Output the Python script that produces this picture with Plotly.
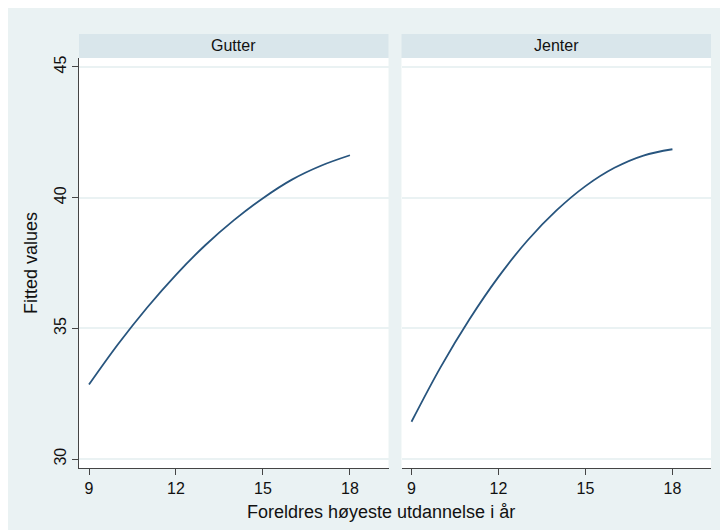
import plotly.graph_objects as go
from plotly.subplots import make_subplots

# fitted values by parents' education (years)
educ_years = [9, 10, 11, 12, 13, 14, 15, 16, 17, 18]
fitted_gutter = [32.85, 34.39, 35.79, 37.05, 38.17, 39.14, 39.98, 40.69, 41.22, 41.62]
fitted_jenter = [31.43, 33.51, 35.35, 36.97, 38.36, 39.51, 40.44, 41.14, 41.61, 41.85]
panel_titles = ["Gutter", "Jenter"]
x_ticks = [9, 12, 15, 18]
y_ticks = [30, 35, 40, 45]

line_col = "#28557e"
bg_col = "#eaf2f3"
strip_col = "#d9e6eb"
axis_col = "#444"
font_name = "Liberation Sans, Arial, sans-serif"

fig = make_subplots(rows=1, cols=2, shared_yaxes=True, horizontal_spacing=13 / 632)

fig.add_trace(go.Scatter(x=educ_years, y=fitted_gutter, mode="lines", line_shape="spline",
                         line=dict(color=line_col, width=1.8), showlegend=False), row=1, col=1)
fig.add_trace(go.Scatter(x=educ_years, y=fitted_jenter, mode="lines", line_shape="spline",
                         line=dict(color=line_col, width=1.8), showlegend=False), row=1, col=2)

fig.update_xaxes(range=[8.655, 19.33], tickvals=x_ticks, ticks="outside", ticklen=6,
                 tickcolor=axis_col, showline=True, linecolor=axis_col, linewidth=1,
                 showgrid=False, zeroline=False,
                 tickfont=dict(family=font_name, size=16, color="#111"))
fig.update_yaxes(range=[29.66, 45.34], tickvals=y_ticks, showgrid=True, gridcolor=bg_col,
                 gridwidth=1.5, zeroline=False)
fig.update_yaxes(ticks="outside", ticklen=6, tickcolor=axis_col, showline=True,
                 linecolor=axis_col, linewidth=1, tickangle=-90,
                 tickfont=dict(family=font_name, size=16, color="#111"), row=1, col=1)
fig.update_yaxes(showticklabels=False, showline=False, ticks="", row=1, col=2)

# facet strips
strip_top = 1 + 24 / 410
for i, name in enumerate(panel_titles):
    xr = "x domain" if i == 0 else "x2 domain"
    fig.add_shape(type="rect", xref=xr, yref="paper", x0=0, x1=1, y0=1, y1=strip_top,
                  fillcolor=strip_col, line_width=0)
    fig.add_annotation(xref=xr, yref="paper", x=0.5, y=(1 + strip_top) / 2,
                       xanchor="center", yanchor="middle", text=name, showarrow=False,
                       font=dict(family=font_name, size=16, color="#111"))

fig.add_annotation(xref="paper", yref="paper", x=0.478, y=-44 / 410,
                   xanchor="center", yanchor="middle",
                   text="Foreldres høyeste utdannelse i år", showarrow=False,
                   font=dict(family=font_name, size=18, color="#111"))
fig.add_annotation(xref="paper", yref="paper", x=-48 / 632, y=0.5, textangle=-90,
                   xanchor="center", yanchor="middle",
                   text="Fitted values", showarrow=False,
                   font=dict(family=font_name, size=18, color="#111"))

fig.update_layout(width=728, height=530, autosize=False,
                  margin=dict(l=71, r=25, t=50, b=70),
                  paper_bgcolor=bg_col, plot_bgcolor="white",
                  font=dict(family=font_name))

fig.write_html("out.html")
